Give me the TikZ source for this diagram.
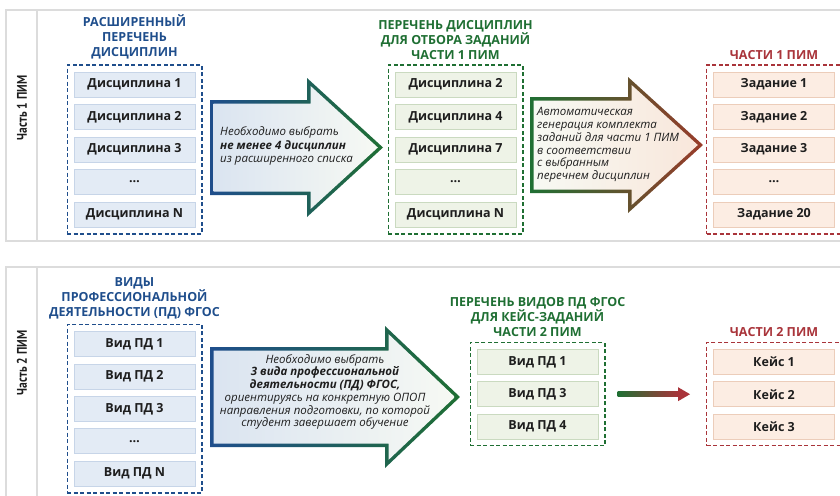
\documentclass[tikz,border=0pt]{standalone}
\usepackage{fontspec}
\setmainfont{Open Sans}
\newfontfamily\sidefont[FakeStretch=0.82]{PT Sans}
\usetikzlibrary{positioning, fit, calc}

\definecolor{tblue}{HTML}{1F4E8C}
\definecolor{tgreen}{HTML}{1F6F33}
\definecolor{tred}{HTML}{A9343A}
\definecolor{tbrown}{HTML}{9A3B2A}
\definecolor{fblue}{HTML}{E3EBF5}
\definecolor{lblue}{HTML}{C7D5E8}
\definecolor{fgreen}{HTML}{EEF3E7}
\definecolor{lgreen}{HTML}{CADAC0}
\definecolor{fred}{HTML}{FCEDE3}
\definecolor{lred}{HTML}{ECCDBA}
\definecolor{framegray}{HTML}{DCDCDC}
\definecolor{txt}{HTML}{1E1E1E}

\begin{document}
\begin{tikzpicture}
[
    x=1pt, y=-1pt, node distance=5pt,
    % Items are named I-column-row
    % columns 0..2 belong to part 1, columns 3..5 to part 2
    % dashed groups are B-column, their headings T-column
]

%=================================== Start ===================================
\tikzstyle{item}  = [draw=l#1, fill=f#1, line width=0.8pt, minimum width=121pt,
                     minimum height=25pt, inner sep=0pt, text=txt,
                     font=\bfseries\fontsize{12.5}{14}\selectfont]
\tikzstyle{dbox}  = [draw=t#1, line width=1.2pt, dash pattern=on 4pt off 2.5pt,
                     inner sep=6.5pt]
\tikzstyle{head}  = [text=t#1, align=center, inner sep=0pt,
                     font=\bfseries\fontsize{12.5}{15}\selectfont]
\tikzstyle{side}  = [rotate=90, text=txt, font=\sidefont\bfseries\fontsize{14}{16}\selectfont]
\tikzstyle{note}  = [text=txt, inner sep=0pt, font=\itshape\fontsize{11.5}{13.5}\selectfont]
\tikzstyle{frame} = [draw=framegray, line width=1.2pt]

\useasboundingbox (0,0) rectangle (840,495);
\clip (0,0) rectangle (840,495);

% Panels
\draw[frame] (6,10) rectangle (850,241);
\draw[frame] (37,10) -- (37,241);
\draw[frame] (6,267) rectangle (850,510);
\draw[frame] (37,267) -- (37,510);
\node[side] (P-1) at (22,108) {Часть 1 ПИМ};
\node[side] (P-2) at (22,363) {Часть 2 ПИМ};

%---------------------------------- Part 1 -----------------------------------
\foreach \y / \t in {0/Дисциплина 1, 1/Дисциплина 2, 2/Дисциплина 3, 3/\ldots, 4/Дисциплина N}
    \node[item=blue] (I-0-\y) at (134.5, 84.5+32.5*\y) {\t};
\foreach \y / \t in {0/Дисциплина 2, 1/Дисциплина 4, 2/Дисциплина 7, 3/\ldots, 4/Дисциплина N}
    \node[item=green] (I-1-\y) at (455.5, 84.5+32.5*\y) {\t};
\foreach \y / \t in {0/Задание 1, 1/Задание 2, 2/Задание 3, 3/\ldots, 4/Задание 20}
    \node[item=red] (I-2-\y) at (774, 84.5+32.5*\y) {\t};

\node[dbox=blue,  fit=(I-0-0)(I-0-4)] (B-0) {};
\node[dbox=green, fit=(I-1-0)(I-1-4)] (B-1) {};
\node[dbox=red,   fit=(I-2-0)(I-2-4)] (B-2) {};

\node[head=blue,  above=5pt of B-0] (T-0) {РАСШИРЕННЫЙ\\ПЕРЕЧЕНЬ\\ДИСЦИПЛИН};
\node[head=green, above=5pt of B-1] (T-1) {ПЕРЕЧЕНЬ ДИСЦИПЛИН\\ДЛЯ ОТБОРА ЗАДАНИЙ\\ЧАСТИ 1 ПИМ};
\node[head=red,   above=5pt of B-2] (T-2) {ЧАСТИ 1 ПИМ};

% big arrow: outer shape gives the rim, inner shape the face
\shade[left color=tblue, right color=tgreen]
    (210,100) -- (307,100) -- (307,78) -- (383,147.5) -- (307,217) -- (307,195) -- (210,195) -- cycle;
\shade[left color=fblue!70!lblue, right color=fgreen!50!white]
    (213.5,103.5) -- (310.5,103.5) -- (310.5,85.9) -- (377.8,147.5) -- (310.5,209.1)
    -- (310.5,191.5) -- (213.5,191.5) -- cycle;
\node[note, anchor=west, align=left] (N-0) at (220,146)
    {Необходимо выбрать\\\textbf{не менее 4 дисциплин}\\из расширенного списка};

\shade[left color=tgreen, right color=tbrown]
    (530,97) -- (628,97) -- (628,77) -- (703,145) -- (628,213) -- (628,193) -- (530,193) -- cycle;
\shade[left color=fgreen!50!white, right color=fred!80!lred]
    (533.5,100.5) -- (631.5,100.5) -- (631.5,84.9) -- (697.8,145) -- (631.5,205.1)
    -- (631.5,189.5) -- (533.5,189.5) -- cycle;
\node[note, anchor=west, align=left, font=\itshape\fontsize{11.5}{12.7}\selectfont] (N-1) at (537,145)
    {Автоматическая\\генерация комплекта\\заданий для части 1 ПИМ\\в соответствии\\с выбранным\\перечнем дисциплин};

%---------------------------------- Part 2 -----------------------------------
\foreach \y / \t in {0/Вид ПД 1, 1/Вид ПД 2, 2/Вид ПД 3, 3/\ldots, 4/Вид ПД N}
    \node[item=blue] (I-3-\y) at (134.5, 344+32.4*\y) {\t};
\foreach \y / \t in {0/Вид ПД 1, 1/Вид ПД 3, 2/Вид ПД 4}
    \node[item=green] (I-4-\y) at (537.5, 362+32.2*\y) {\t};
\foreach \y / \t in {0/Кейс 1, 1/Кейс 2, 2/Кейс 3}
    \node[item=red] (I-5-\y) at (774, 362+32.2*\y) {\t};

\node[dbox=blue,  fit=(I-3-0)(I-3-4)] (B-3) {};
\node[dbox=green, fit=(I-4-0)(I-4-2)] (B-4) {};
\node[dbox=red,   fit=(I-5-0)(I-5-2)] (B-5) {};

\node[head=blue,  above=5pt of B-3] (T-3) {ВИДЫ\\ПРОФЕССИОНАЛЬНОЙ\\ДЕЯТЕЛЬНОСТИ (ПД) ФГОС};
\node[head=green, above=5pt of B-4] (T-4) {ПЕРЕЧЕНЬ ВИДОВ ПД ФГОС\\ДЛЯ КЕЙС-ЗАДАНИЙ\\ЧАСТИ 2 ПИМ};
\node[head=red,   above=5pt of B-5] (T-5) {ЧАСТИ 2 ПИМ};

\shade[left color=tblue, right color=tgreen]
    (210,347) -- (385,347) -- (385,326) -- (460,397) -- (385,468) -- (385,447) -- (210,447) -- cycle;
\shade[left color=fblue!70!lblue, right color=fgreen!50!white]
    (213.5,350.5) -- (388.5,350.5) -- (388.5,334.1) -- (454.9,397) -- (388.5,459.9)
    -- (388.5,443.5) -- (213.5,443.5) -- cycle;
\node[note, align=center, font=\itshape\fontsize{11.5}{12.7}\selectfont] (N-2) at (325,392)
    {Необходимо выбрать\\\textbf{3 вида профессиональной}\\\textbf{деятельности (ПД) ФГОС,}\\
     ориентируясь на конкретную ОПОП\\направления подготовки, по которой\\студент завершает обучение};

% thin gradient arrow from the chosen kinds to the cases
\coordinate (a-1) at ([xshift=12pt]B-4.east);
\coordinate (a-2) at ([xshift=-16pt]B-5.west);
\shade[left color=tgreen, right color=tred] ($(a-1)+(0,-2.5)$) rectangle ($(a-2)+(-11,2.5)$);
\fill[tred] ($(a-2)+(-12,-7)$) -- (a-2) -- ($(a-2)+(-12,7)$) -- cycle;
%==================================== END ====================================

\end{tikzpicture}
\end{document}
